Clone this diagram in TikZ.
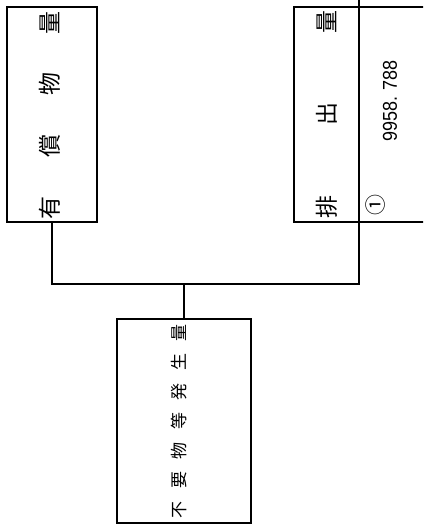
\documentclass[tikz,border=0pt]{standalone}
\usepackage{fontspec}
\newfontfamily\jp{Noto Sans CJK JP}
\newfontfamily\numfont{Liberation Sans}
\begin{document}
\begin{tikzpicture}[x=1pt,y=1pt,
  box/.style={draw, line width=1.8pt, outer sep=0pt, inner sep=0pt, anchor=north west},
  conn/.style={line width=1.8pt},
  lbl/.style={rotate=90, inner sep=0pt}]
\useasboundingbox (0,0) rectangle (423,-526);
\clip (0,0) rectangle (423,-526);
% boxes
\node[box, minimum width=90, minimum height=215] (a) at (7,-7) {};
\node[box, minimum width=65, minimum height=215] (b) at (294,-7) {};
\node[box, minimum width=120, minimum height=215] (v) at (359,-7) {};
\node[box, minimum width=134, minimum height=204] (c) at (117,-319) {};
% connectors
\coordinate (bus) at (0,-284);
\coordinate (top) at (0,2);
\draw[conn] (a.south) -- (a.south |- bus) -- (b.south east |- bus) -- (b.south east);
\draw[conn] (c.north) -- (c.north |- bus);
\draw[conn] (b.north east) -- (b.north east |- top);
% labels
\node[lbl] (ta) at (50,-115) {\jp\fontsize{23}{23}\selectfont\makebox[208pt][s]{有 償 物 量}};
\node[lbl] (tb) at (327,-114.5) {\jp\fontsize{23}{23}\selectfont\makebox[208pt][s]{排 出 量}};
\node[lbl] (tc) at (179,-421) {\jp\fontsize{17}{17}\selectfont\makebox[194pt][s]{不 要 物 等 発 生 量}};
\node[lbl] (tv) at (390,-101) {\numfont\fontsize{20}{20}\selectfont\scalebox{0.9}[1]{9958.\hspace{0.3em}788}};
\node[lbl] (tn) at (376,-205) {\jp\fontsize{21}{21}\selectfont ①};
\end{tikzpicture}
\end{document}
